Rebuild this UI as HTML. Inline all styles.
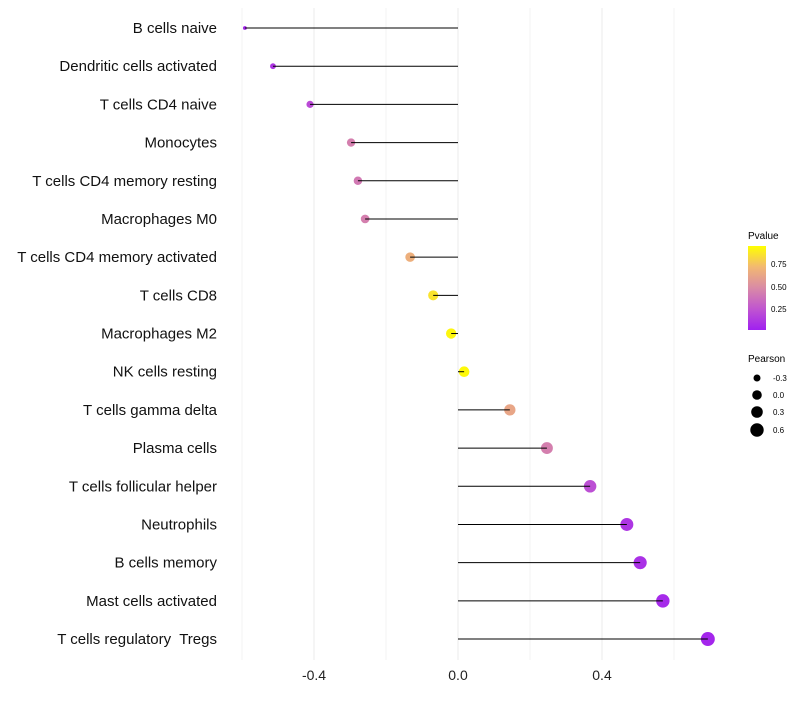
<!DOCTYPE html>
<html><head><meta charset="utf-8"><style>body{margin:0;background:#fff}svg{font-family:"Liberation Sans",sans-serif}text{white-space:pre}</style></head>
<body>
<svg id="chart" width="800" height="700" xmlns="http://www.w3.org/2000/svg">
<defs><linearGradient id="pg" x1="0" y1="1" x2="0" y2="0">
<stop offset="0" stop-color="#a020f0"/><stop offset="0.25" stop-color="#c055d0"/><stop offset="0.5" stop-color="#d98aa6"/><stop offset="0.75" stop-color="#f2b872"/><stop offset="1" stop-color="#ffff00"/></linearGradient></defs>
<g id="grid"></g><g id="dots"></g><g id="marks"></g><g id="labels"></g>
<g>
<text x="748" y="239" font-size="10">Pvalue</text>
<rect x="748" y="246" width="18" height="84" fill="url(#pg)"/>
<text x="771" y="267" font-size="8">0.75</text><text x="771" y="290" font-size="8">0.50</text><text x="771" y="312" font-size="8">0.25</text>
</g>
<g>
<text x="748" y="362" font-size="10">Pearson</text>
<circle cx="757" cy="378" r="3.5"/><text x="773" y="381" font-size="8">-0.3</text>
<circle cx="757" cy="395" r="4.8"/><text x="773" y="398" font-size="8">0.0</text>
<circle cx="757" cy="412" r="5.8"/><text x="773" y="415" font-size="8">0.3</text>
<circle cx="757" cy="430" r="6.7"/><text x="773" y="433" font-size="8">0.6</text>
</g>
</svg>
<script>
const categories=["B cells naive","Dendritic cells activated","T cells CD4 naive","Monocytes","T cells CD4 memory resting","Macrophages M0","T cells CD4 memory activated","T cells CD8","Macrophages M2","NK cells resting","T cells gamma delta","Plasma cells","T cells follicular helper","Neutrophils","B cells memory","Mast cells activated","T cells regulatory  Tregs"];
const pearson=[-0.592,-0.514,-0.411,-0.297,-0.278,-0.258,-0.133,-0.069,-0.019,0.017,0.144,0.247,0.367,0.469,0.506,0.569,0.694];
const pvalues=[0.03,0.1,0.2,0.45,0.42,0.45,0.7,0.9,0.97,0.98,0.65,0.45,0.22,0.1,0.08,0.05,0.03];
const xTicks=[-0.4,0.0,0.4];
const xGrid=[-0.6,-0.2,0.2,0.6];
const NS="http://www.w3.org/2000/svg";
const x=v=>458+v*360;
const y=i=>28+i*38.19;
const r=v=>1.5+5.5*Math.sqrt(Math.max(0,v+0.6)/1.3);
const stops=[[0,[160,32,240]],[0.25,[192,85,208]],[0.5,[217,138,166]],[0.75,[242,184,114]],[1,[255,255,0]]];
function col(p){for(let k=1;k<stops.length;k++){if(p<=stops[k][0]){const a=stops[k-1],b=stops[k],t=(p-a[0])/(b[0]-a[0]);return "rgb("+a[1].map((c,j)=>Math.round(c+(b[1][j]-c)*t)).join(",")+")";}}return "rgb(255,255,0)";}
function mk(t,at,parent){const e=document.createElementNS(NS,t);for(const k in at)e.setAttribute(k,at[k]);document.getElementById(parent).appendChild(e);return e;}
xGrid.concat(xTicks).forEach(v=>{const g=mk("line",{x1:x(v),x2:x(v),y1:8,y2:660,stroke:"#ebebeb","stroke-width":xTicks.includes(v)?1:0.6},"grid");

});
xTicks.forEach(v=>{const t=mk("text",{x:x(v),y:680,"font-size":14,"text-anchor":"middle",fill:"#222"},"labels");t.textContent=v.toFixed(1);

});
categories.forEach((c,i)=>{
const t=mk("text",{x:217,y:y(i)+5,"font-size":15,"text-anchor":"end",fill:"#111"},"labels");t.textContent=c;


const d=mk("circle",{cx:x(pearson[i]),cy:y(i),r:r(pearson[i]),fill:col(pvalues[i])},"dots");


const l=mk("line",{x1:x(0),x2:x(pearson[i]),y1:y(i),y2:y(i),stroke:"#000","stroke-width":1},"marks");


});
</script>
</body></html>
